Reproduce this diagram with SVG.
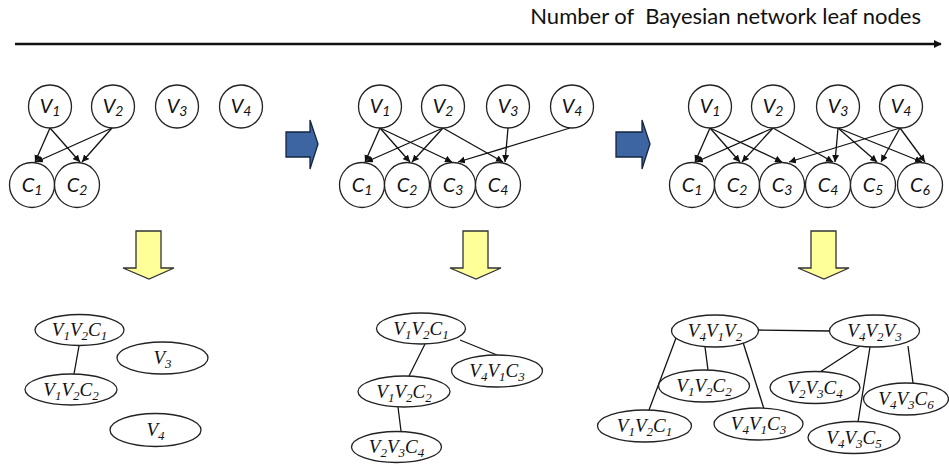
<svg xmlns="http://www.w3.org/2000/svg" width="949" height="468" viewBox="0 0 949 468">
  <style>
    .bn { fill: #fff; stroke: #222; stroke-width: 1.3; }
    .bl { font-family: Lato, "Open Sans", "Liberation Sans", sans-serif; font-style: italic; font-size: 20px; fill: #111; text-anchor: middle; }
    .bl .s { font-size: 14px; }
    .jt { fill: #fff; stroke: #222; stroke-width: 1.3; }
    .jl { font-family: "Liberation Serif", "DejaVu Serif", serif; font-style: italic; font-size: 19px; fill: #111; text-anchor: middle; }
    .jl .s { font-size: 13px; }
    .edge { stroke: #111; stroke-width: 1.3; fill: none; marker-end: url(#tip); }
    .link { stroke: #111; stroke-width: 1.3; fill: none; }
    .step { fill: #3d65a2; stroke: #15243f; stroke-width: 1.3; }
    .down { fill: #ffff99; stroke: #333; stroke-width: 1.3; }
    .title { font-family: Lato, "Open Sans", "Liberation Sans", sans-serif; font-size: 22px; fill: #111; text-anchor: end; white-space: pre; }
  </style>
  <defs>
    <marker id="tip" viewBox="0 0 10 10" refX="10" refY="5" markerWidth="7" markerHeight="7" markerUnits="userSpaceOnUse" orient="auto">
      <path d="M0,0 L10,5 L0,10 Z" fill="#111"/>
    </marker>
    <marker id="axtip" viewBox="0 0 10 10" refX="9" refY="5" markerWidth="8" markerHeight="8" markerUnits="userSpaceOnUse" orient="auto">
      <path d="M0,0 L10,5 L0,10 Z" fill="#111"/>
    </marker>
  </defs>

  <!-- axis -->
  <g id="axis">
    <text class="title" x="921" y="24" xml:space="preserve">Number of  Bayesian network leaf nodes</text>
    <line x1="15" y1="44" x2="941" y2="44" stroke="#111" stroke-width="2.6" marker-end="url(#axtip)"/>
  </g>

  <!-- transition arrows -->
  <g id="steps">
    <path class="step" d="M286,132 H310 V120 L318,144 L310,169 V157 H286 Z"/>
    <path class="step" d="M616,132 H642 V120 L650,144 L642,169 V157 H616 Z"/>
    <path class="down" d="M136,231 H161 V268 H174 L149,279 L123,268 H136 Z"/>
    <path class="down" d="M463,231 H488 V268 H501 L476,279 L450,268 H463 Z"/>
    <path class="down" d="M811,231 H836 V268 H849 L824,279 L798,268 H811 Z"/>
  </g>

  <!-- Bayesian network edges -->
  <g id="connectors">
    <line class="edge" x1="50" y1="128" x2="35" y2="162"/>
    <line class="edge" x1="50" y1="128" x2="80" y2="162"/>
    <line class="edge" x1="112" y1="128" x2="36" y2="162"/>
    <line class="edge" x1="112" y1="128" x2="82" y2="162"/>

    <line class="edge" x1="380" y1="128" x2="365" y2="162"/>
    <line class="edge" x1="380" y1="128" x2="410" y2="162"/>
    <line class="edge" x1="380" y1="128" x2="452" y2="162"/>
    <line class="edge" x1="443" y1="128" x2="366" y2="162"/>
    <line class="edge" x1="443" y1="128" x2="412" y2="162"/>
    <line class="edge" x1="443" y1="128" x2="503" y2="162"/>
    <line class="edge" x1="508" y1="128" x2="505" y2="162"/>
    <line class="edge" x1="570" y1="128" x2="458" y2="162"/>

    <line class="edge" x1="710" y1="128" x2="695" y2="162"/>
    <line class="edge" x1="710" y1="128" x2="740" y2="162"/>
    <line class="edge" x1="710" y1="128" x2="782" y2="162"/>
    <line class="edge" x1="773" y1="128" x2="696" y2="162"/>
    <line class="edge" x1="773" y1="128" x2="742" y2="162"/>
    <line class="edge" x1="773" y1="128" x2="833" y2="162"/>
    <line class="edge" x1="838" y1="128" x2="835" y2="162"/>
    <line class="edge" x1="838" y1="128" x2="877" y2="162"/>
    <line class="edge" x1="838" y1="128" x2="922" y2="162"/>
    <line class="edge" x1="900" y1="128" x2="789" y2="162"/>
    <line class="edge" x1="900" y1="128" x2="881" y2="162"/>
    <line class="edge" x1="900" y1="128" x2="925" y2="162"/>

    <!-- junction tree links -->
    <line class="link" x1="79" y1="346" x2="74" y2="374"/>

    <line class="link" x1="460" y1="340" x2="497" y2="355"/>
    <line class="link" x1="425" y1="344" x2="409" y2="376"/>
    <line class="link" x1="398" y1="407" x2="401" y2="431"/>

    <line class="link" x1="758" y1="330" x2="830" y2="331"/>
    <line class="link" x1="676" y1="338" x2="649" y2="410"/>
    <line class="link" x1="705" y1="347" x2="708" y2="370"/>
    <line class="link" x1="742" y1="339" x2="764" y2="409"/>
    <line class="link" x1="860" y1="346" x2="820" y2="372"/>
    <line class="link" x1="870" y1="347" x2="858" y2="422"/>
    <line class="link" x1="908" y1="346" x2="913" y2="383"/>
  </g>

  <!-- stage 1 network -->
  <g id="s1-V1"><circle class="bn" cx="50" cy="106.5" r="21.5"/><text class="bl" x="50" y="113">V<tspan class="s" dy="3">1</tspan></text></g>
  <g id="s1-V2"><circle class="bn" cx="113" cy="106.5" r="21.5"/><text class="bl" x="113" y="113">V<tspan class="s" dy="3">2</tspan></text></g>
  <g id="s1-V3"><circle class="bn" cx="177" cy="106.5" r="21.5"/><text class="bl" x="177" y="113">V<tspan class="s" dy="3">3</tspan></text></g>
  <g id="s1-V4"><circle class="bn" cx="241" cy="106.5" r="21.5"/><text class="bl" x="241" y="113">V<tspan class="s" dy="3">4</tspan></text></g>
  <g id="s1-C1"><circle class="bn" cx="32" cy="185" r="22.5"/><text class="bl" x="32" y="192">C<tspan class="s" dy="3">1</tspan></text></g>
  <g id="s1-C2"><circle class="bn" cx="77" cy="185" r="22.5"/><text class="bl" x="77" y="192">C<tspan class="s" dy="3">2</tspan></text></g>

  <!-- stage 2 network -->
  <g id="s2-V1"><circle class="bn" cx="380" cy="106.5" r="21.5"/><text class="bl" x="380" y="113">V<tspan class="s" dy="3">1</tspan></text></g>
  <g id="s2-V2"><circle class="bn" cx="443" cy="106.5" r="21.5"/><text class="bl" x="443" y="113">V<tspan class="s" dy="3">2</tspan></text></g>
  <g id="s2-V3"><circle class="bn" cx="508" cy="106.5" r="21.5"/><text class="bl" x="508" y="113">V<tspan class="s" dy="3">3</tspan></text></g>
  <g id="s2-V4"><circle class="bn" cx="572" cy="106.5" r="21.5"/><text class="bl" x="572" y="113">V<tspan class="s" dy="3">4</tspan></text></g>
  <g id="s2-C1"><circle class="bn" cx="362" cy="185" r="22.5"/><text class="bl" x="362" y="192">C<tspan class="s" dy="3">1</tspan></text></g>
  <g id="s2-C2"><circle class="bn" cx="407" cy="185" r="22.5"/><text class="bl" x="407" y="192">C<tspan class="s" dy="3">2</tspan></text></g>
  <g id="s2-C3"><circle class="bn" cx="453" cy="185" r="22.5"/><text class="bl" x="453" y="192">C<tspan class="s" dy="3">3</tspan></text></g>
  <g id="s2-C4"><circle class="bn" cx="498" cy="185" r="22.5"/><text class="bl" x="498" y="192">C<tspan class="s" dy="3">4</tspan></text></g>

  <!-- stage 3 network -->
  <g id="s3-V1"><circle class="bn" cx="710" cy="106.5" r="21.5"/><text class="bl" x="710" y="113">V<tspan class="s" dy="3">1</tspan></text></g>
  <g id="s3-V2"><circle class="bn" cx="773" cy="106.5" r="21.5"/><text class="bl" x="773" y="113">V<tspan class="s" dy="3">2</tspan></text></g>
  <g id="s3-V3"><circle class="bn" cx="838" cy="106.5" r="21.5"/><text class="bl" x="838" y="113">V<tspan class="s" dy="3">3</tspan></text></g>
  <g id="s3-V4"><circle class="bn" cx="901" cy="106.5" r="21.5"/><text class="bl" x="901" y="113">V<tspan class="s" dy="3">4</tspan></text></g>
  <g id="s3-C1"><circle class="bn" cx="692" cy="185" r="22.5"/><text class="bl" x="692" y="192">C<tspan class="s" dy="3">1</tspan></text></g>
  <g id="s3-C2"><circle class="bn" cx="737" cy="185" r="22.5"/><text class="bl" x="737" y="192">C<tspan class="s" dy="3">2</tspan></text></g>
  <g id="s3-C3"><circle class="bn" cx="782" cy="185" r="22.5"/><text class="bl" x="782" y="192">C<tspan class="s" dy="3">3</tspan></text></g>
  <g id="s3-C4"><circle class="bn" cx="828" cy="185" r="22.5"/><text class="bl" x="828" y="192">C<tspan class="s" dy="3">4</tspan></text></g>
  <g id="s3-C5"><circle class="bn" cx="873" cy="185" r="22.5"/><text class="bl" x="873" y="192">C<tspan class="s" dy="3">5</tspan></text></g>
  <g id="s3-C6"><circle class="bn" cx="920" cy="185" r="22.5"/><text class="bl" x="920" y="192">C<tspan class="s" dy="3">6</tspan></text></g>

  <!-- stage 1 junction tree -->
  <g id="j1-V1V2C1"><ellipse class="jt" cx="79.5" cy="330" rx="44.5" ry="15.5"/><text class="jl" x="79.5" y="336">V<tspan class="s" dy="4">1</tspan><tspan dy="-4">V</tspan><tspan class="s" dy="4">2</tspan><tspan dy="-4">C</tspan><tspan class="s" dy="4">1</tspan></text></g>
  <g id="j1-V3"><ellipse class="jt" cx="162.5" cy="358" rx="45.5" ry="16"/><text class="jl" x="162.5" y="364">V<tspan class="s" dy="4">3</tspan></text></g>
  <g id="j1-V1V2C2"><ellipse class="jt" cx="71" cy="389.5" rx="46" ry="15.5"/><text class="jl" x="71" y="395.5">V<tspan class="s" dy="4">1</tspan><tspan dy="-4">V</tspan><tspan class="s" dy="4">2</tspan><tspan dy="-4">C</tspan><tspan class="s" dy="4">2</tspan></text></g>
  <g id="j1-V4"><ellipse class="jt" cx="155.5" cy="430" rx="45.5" ry="16.5"/><text class="jl" x="155.5" y="436">V<tspan class="s" dy="4">4</tspan></text></g>

  <!-- stage 2 junction tree -->
  <g id="j2-V1V2C1"><ellipse class="jt" cx="421" cy="328.5" rx="44.5" ry="15.5"/><text class="jl" x="421" y="334.5">V<tspan class="s" dy="4">1</tspan><tspan dy="-4">V</tspan><tspan class="s" dy="4">2</tspan><tspan dy="-4">C</tspan><tspan class="s" dy="4">1</tspan></text></g>
  <g id="j2-V4V1C3"><ellipse class="jt" cx="497" cy="371" rx="45.5" ry="16"/><text class="jl" x="497" y="377">V<tspan class="s" dy="4">4</tspan><tspan dy="-4">V</tspan><tspan class="s" dy="4">1</tspan><tspan dy="-4">C</tspan><tspan class="s" dy="4">3</tspan></text></g>
  <g id="j2-V1V2C2"><ellipse class="jt" cx="404" cy="391.5" rx="46" ry="15.5"/><text class="jl" x="404" y="397.5">V<tspan class="s" dy="4">1</tspan><tspan dy="-4">V</tspan><tspan class="s" dy="4">2</tspan><tspan dy="-4">C</tspan><tspan class="s" dy="4">2</tspan></text></g>
  <g id="j2-V2V3C4"><ellipse class="jt" cx="396.5" cy="447" rx="45" ry="15.5"/><text class="jl" x="396.5" y="453">V<tspan class="s" dy="4">2</tspan><tspan dy="-4">V</tspan><tspan class="s" dy="4">3</tspan><tspan dy="-4">C</tspan><tspan class="s" dy="4">4</tspan></text></g>

  <!-- stage 3 junction tree -->
  <g id="j3-V4V1V2"><ellipse class="jt" cx="715" cy="331" rx="43.5" ry="16"/><text class="jl" x="715" y="337">V<tspan class="s" dy="4">4</tspan><tspan dy="-4">V</tspan><tspan class="s" dy="4">1</tspan><tspan dy="-4">V</tspan><tspan class="s" dy="4">2</tspan></text></g>
  <g id="j3-V4V2V3"><ellipse class="jt" cx="874.5" cy="331" rx="45" ry="16"/><text class="jl" x="874.5" y="337">V<tspan class="s" dy="4">4</tspan><tspan dy="-4">V</tspan><tspan class="s" dy="4">2</tspan><tspan dy="-4">V</tspan><tspan class="s" dy="4">3</tspan></text></g>
  <g id="j3-V1V2C2"><ellipse class="jt" cx="704" cy="386" rx="45.5" ry="16"/><text class="jl" x="704" y="392">V<tspan class="s" dy="4">1</tspan><tspan dy="-4">V</tspan><tspan class="s" dy="4">2</tspan><tspan dy="-4">C</tspan><tspan class="s" dy="4">2</tspan></text></g>
  <g id="j3-V2V3C4"><ellipse class="jt" cx="815" cy="387.5" rx="45" ry="16"/><text class="jl" x="815" y="393.5">V<tspan class="s" dy="4">2</tspan><tspan dy="-4">V</tspan><tspan class="s" dy="4">3</tspan><tspan dy="-4">C</tspan><tspan class="s" dy="4">4</tspan></text></g>
  <g id="j3-V4V3C6"><ellipse class="jt" cx="906" cy="399" rx="42.5" ry="16"/><text class="jl" x="906" y="405">V<tspan class="s" dy="4">4</tspan><tspan dy="-4">V</tspan><tspan class="s" dy="4">3</tspan><tspan dy="-4">C</tspan><tspan class="s" dy="4">6</tspan></text></g>
  <g id="j3-V1V2C1"><ellipse class="jt" cx="644.5" cy="426" rx="47" ry="16"/><text class="jl" x="644.5" y="432">V<tspan class="s" dy="4">1</tspan><tspan dy="-4">V</tspan><tspan class="s" dy="4">2</tspan><tspan dy="-4">C</tspan><tspan class="s" dy="4">1</tspan></text></g>
  <g id="j3-V4V1C3"><ellipse class="jt" cx="758.5" cy="424" rx="44.5" ry="16"/><text class="jl" x="758.5" y="430">V<tspan class="s" dy="4">4</tspan><tspan dy="-4">V</tspan><tspan class="s" dy="4">1</tspan><tspan dy="-4">C</tspan><tspan class="s" dy="4">3</tspan></text></g>
  <g id="j3-V4V3C5"><ellipse class="jt" cx="854" cy="437.5" rx="46" ry="16"/><text class="jl" x="854" y="443.5">V<tspan class="s" dy="4">4</tspan><tspan dy="-4">V</tspan><tspan class="s" dy="4">3</tspan><tspan dy="-4">C</tspan><tspan class="s" dy="4">5</tspan></text></g>
</svg>
